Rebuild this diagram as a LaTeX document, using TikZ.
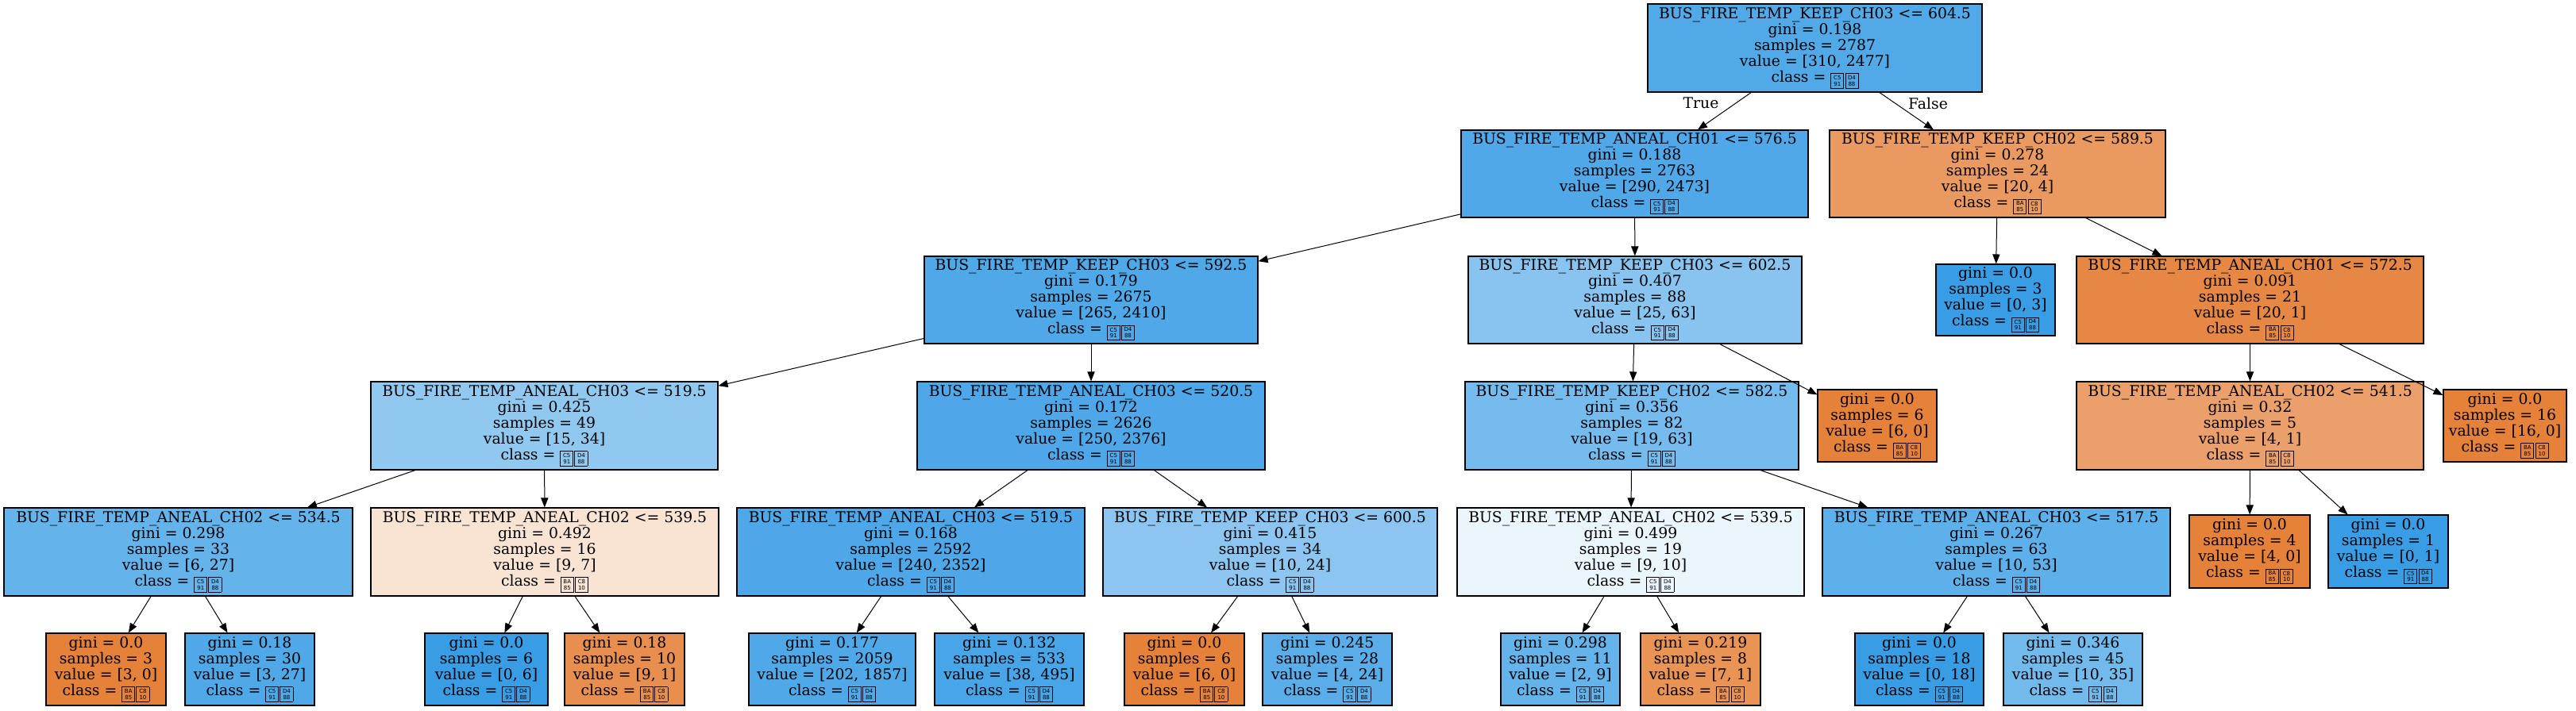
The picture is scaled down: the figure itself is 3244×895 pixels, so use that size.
\documentclass[tikz,border=0pt]{standalone}
\usepackage{fontspec}
\setmainfont{DejaVu Serif}
\newfontfamily\hexfont{DejaVu Sans}
\usetikzlibrary{arrows.meta}
\definecolor{cb}{RGB}{57,157,229}
\definecolor{co}{RGB}{229,129,57}
\newcommand{\tofu}[2]{\raisebox{-1.5pt}{\fboxsep=0pt\fboxrule=0.45pt\fbox{\parbox[c][8.8pt][c]{7.6pt}{\centering\hexfont\fontsize{3.5}{3.9}\selectfont #1\\#2}}}}
\newcommand{\clsA}{\tofu{C5}{91}\hspace{0.6pt}\tofu{D4}{88}}
\newcommand{\clsB}{\tofu{BA}{85}\hspace{0.6pt}\tofu{C8}{10}}
\newcommand{\tn}[7]{\node[tbox, fill=#6, minimum width={(#4-#2)*0.5pt}, minimum height={(#5-#3)*0.5pt}] (#1) at ({(#2+#4)/2},{(#3+#5)/2}) {#7};}
\tikzset{
  tbox/.style={draw=black, line width=0.55pt, inner sep=0pt, align=center, font=\fontsize{9.4}{10}\selectfont},
  lbl/.style={inner sep=0pt, font=\fontsize{9.4}{10}\selectfont},
  edge/.style={draw=black, line width=0.5pt, -{Triangle[length=6pt,width=4.6pt]}}
}
\begin{document}
\begin{tikzpicture}[x=0.5pt,y=-0.5pt]
\useasboundingbox[fill=white] (0,0) rectangle (3244,895);
% level 0
\tn{n0}{2075}{5}{2496}{116}{cb!87.5!white}{BUS\_FIRE\_TEMP\_KEEP\_CH03 <= 604.5\\gini = 0.198\\samples = 2787\\value = [310, 2477]\\class = \clsA}
% level 1
\tn{n1}{1840}{164}{2277}{274}{cb!88.3!white}{BUS\_FIRE\_TEMP\_ANEAL\_CH01 <= 576.5\\gini = 0.188\\samples = 2763\\value = [290, 2473]\\class = \clsA}
\tn{n2}{2304}{164}{2727}{274}{co!80!white}{BUS\_FIRE\_TEMP\_KEEP\_CH02 <= 589.5\\gini = 0.278\\samples = 24\\value = [20, 4]\\class = \clsB}
% level 2
\tn{n3}{1164}{323}{1584}{433}{cb!89!white}{BUS\_FIRE\_TEMP\_KEEP\_CH03 <= 592.5\\gini = 0.179\\samples = 2675\\value = [265, 2410]\\class = \clsA}
\tn{n4}{1849}{323}{2269}{433}{cb!60.3!white}{BUS\_FIRE\_TEMP\_KEEP\_CH03 <= 602.5\\gini = 0.407\\samples = 88\\value = [25, 63]\\class = \clsA}
\tn{l3}{2438}{333}{2588}{423}{cb}{gini = 0.0\\samples = 3\\value = [0, 3]\\class = \clsA}
\tn{n5}{2615}{323}{3052}{433}{co!95!white}{BUS\_FIRE\_TEMP\_ANEAL\_CH01 <= 572.5\\gini = 0.091\\samples = 21\\value = [20, 1]\\class = \clsB}
% level 3
\tn{n6}{467}{481}{904}{592}{cb!55.9!white}{BUS\_FIRE\_TEMP\_ANEAL\_CH03 <= 519.5\\gini = 0.425\\samples = 49\\value = [15, 34]\\class = \clsA}
\tn{n7}{1155}{481}{1593}{592}{cb!89.5!white}{BUS\_FIRE\_TEMP\_ANEAL\_CH03 <= 520.5\\gini = 0.172\\samples = 2626\\value = [250, 2376]\\class = \clsA}
\tn{n8}{1845}{481}{2265}{592}{cb!69.8!white}{BUS\_FIRE\_TEMP\_KEEP\_CH02 <= 582.5\\gini = 0.356\\samples = 82\\value = [19, 63]\\class = \clsA}
\tn{l6}{2289}{491}{2439}{582}{co}{gini = 0.0\\samples = 6\\value = [6, 0]\\class = \clsB}
\tn{n9}{2615}{481}{3052}{592}{co!75!white}{BUS\_FIRE\_TEMP\_ANEAL\_CH02 <= 541.5\\gini = 0.32\\samples = 5\\value = [4, 1]\\class = \clsB}
\tn{l16}{3077}{491}{3232}{582}{co}{gini = 0.0\\samples = 16\\value = [16, 0]\\class = \clsB}
% level 4
\tn{n10}{5}{640}{444}{751}{cb!77.8!white}{BUS\_FIRE\_TEMP\_ANEAL\_CH02 <= 534.5\\gini = 0.298\\samples = 33\\value = [6, 27]\\class = \clsA}
\tn{n11}{467}{640}{905}{751}{co!22.2!white}{BUS\_FIRE\_TEMP\_ANEAL\_CH02 <= 539.5\\gini = 0.492\\samples = 16\\value = [9, 7]\\class = \clsB}
\tn{n12}{928}{640}{1366}{751}{cb!89.8!white}{BUS\_FIRE\_TEMP\_ANEAL\_CH03 <= 519.5\\gini = 0.168\\samples = 2592\\value = [240, 2352]\\class = \clsA}
\tn{n13}{1389}{640}{1810}{751}{cb!58.3!white}{BUS\_FIRE\_TEMP\_KEEP\_CH03 <= 600.5\\gini = 0.415\\samples = 34\\value = [10, 24]\\class = \clsA}
\tn{n14}{1835}{640}{2272}{751}{cb!10!white}{BUS\_FIRE\_TEMP\_ANEAL\_CH02 <= 539.5\\gini = 0.499\\samples = 19\\value = [9, 10]\\class = \clsA}
\tn{n15}{2295}{640}{2733}{751}{cb!81.1!white}{BUS\_FIRE\_TEMP\_ANEAL\_CH03 <= 517.5\\gini = 0.267\\samples = 63\\value = [10, 53]\\class = \clsA}
\tn{l4}{2757}{649}{2909}{741}{co}{gini = 0.0\\samples = 4\\value = [4, 0]\\class = \clsB}
\tn{l1}{2932}{649}{3083}{741}{cb}{gini = 0.0\\samples = 1\\value = [0, 1]\\class = \clsA}
% level 5
\tn{la}{58}{798}{209}{889}{co}{gini = 0.0\\samples = 3\\value = [3, 0]\\class = \clsB}
\tn{lb}{233}{798}{396}{889}{cb!88.9!white}{gini = 0.18\\samples = 30\\value = [3, 27]\\class = \clsA}
\tn{lc}{535}{798}{690}{889}{cb}{gini = 0.0\\samples = 6\\value = [0, 6]\\class = \clsA}
\tn{ld}{711}{798}{862}{889}{co!88.9!white}{gini = 0.18\\samples = 10\\value = [9, 1]\\class = \clsB}
\tn{le}{943}{798}{1153}{889}{cb!89.1!white}{gini = 0.177\\samples = 2059\\value = [202, 1857]\\class = \clsA}
\tn{lf}{1177}{798}{1365}{889}{cb!92.3!white}{gini = 0.132\\samples = 533\\value = [38, 495]\\class = \clsA}
\tn{lg}{1416}{798}{1567}{889}{co}{gini = 0.0\\samples = 6\\value = [6, 0]\\class = \clsB}
\tn{lh}{1590}{798}{1753}{889}{cb!83.3!white}{gini = 0.245\\samples = 28\\value = [4, 24]\\class = \clsA}
\tn{li}{1890}{798}{2040}{889}{cb!77.8!white}{gini = 0.298\\samples = 11\\value = [2, 9]\\class = \clsA}
\tn{lj}{2066}{798}{2217}{889}{co!85.7!white}{gini = 0.219\\samples = 8\\value = [7, 1]\\class = \clsB}
\tn{lk}{2336}{798}{2498}{889}{cb}{gini = 0.0\\samples = 18\\value = [0, 18]\\class = \clsA}
\tn{ll}{2523}{798}{2698}{889}{cb!71.4!white}{gini = 0.346\\samples = 45\\value = [10, 35]\\class = \clsA}
% edges
\path[edge] (n0) -- (n1);
\path[edge] (n0) -- (n2);
\node[lbl] (tT) at (2142,130) {True};
\node[lbl] (tF) at (2428,130) {False};
\path[edge] (n1) -- (n3);
\path[edge] (n1) -- (n4);
\path[edge] (n2) -- (l3);
\path[edge] (n2) -- (n5);
\path[edge] (n3) -- (n6);
\path[edge] (n3) -- (n7);
\path[edge] (n4) -- (n8);
\path[edge] (n4) -- (l6);
\path[edge] (n5) -- (n9);
\path[edge] (n5) -- (l16);
\path[edge] (n6) -- (n10);
\path[edge] (n6) -- (n11);
\path[edge] (n7) -- (n12);
\path[edge] (n7) -- (n13);
\path[edge] (n8) -- (n14);
\path[edge] (n8) -- (n15);
\path[edge] (n9) -- (l4);
\path[edge] (n9) -- (l1);
\path[edge] (n10) -- (la);
\path[edge] (n10) -- (lb);
\path[edge] (n11) -- (lc);
\path[edge] (n11) -- (ld);
\path[edge] (n12) -- (le);
\path[edge] (n12) -- (lf);
\path[edge] (n13) -- (lg);
\path[edge] (n13) -- (lh);
\path[edge] (n14) -- (li);
\path[edge] (n14) -- (lj);
\path[edge] (n15) -- (lk);
\path[edge] (n15) -- (ll);
\end{tikzpicture}
\end{document}
